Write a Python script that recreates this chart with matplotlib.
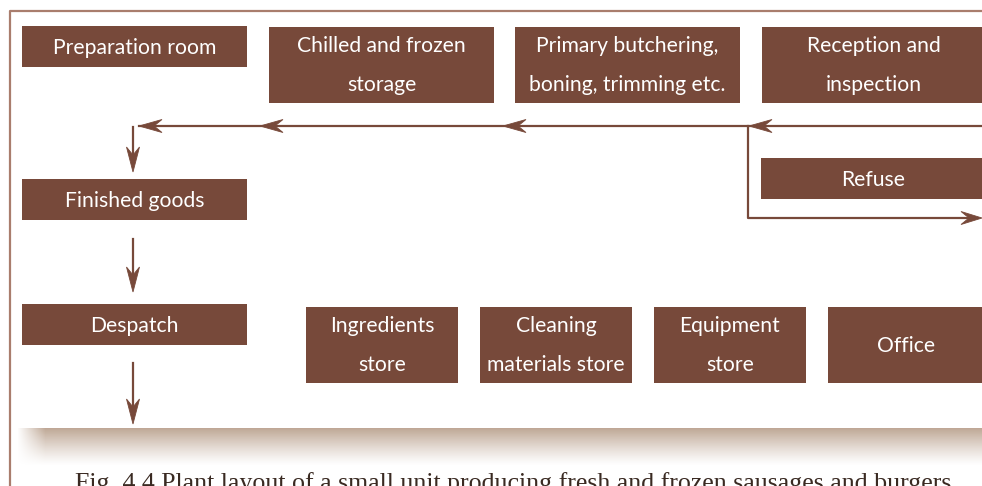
import matplotlib
matplotlib.use("Agg")
import matplotlib.pyplot as plt
from matplotlib.patches import Rectangle, Polygon
import numpy as np

# ---- content ----
box_labels = [
    "Preparation room",
    "Chilled and frozen\nstorage",
    "Primary butchering,\nboning, trimming etc.",
    "Reception and\ninspection",
    "Refuse",
    "Finished goods",
    "Despatch",
    "Ingredients\nstore",
    "Cleaning\nmaterials store",
    "Equipment\nstore",
    "Office",
]
caption = "Fig. 4.4 Plant layout of a small unit producing fresh and frozen sausages and burgers"

# ---- layout (pixels: x0, y0, x1, y1) ----
box_layout = [
    (22, 26, 247, 67),
    (269, 27, 494, 103),
    (515, 27, 740, 103),
    (762, 27, 985, 103),
    (761, 158, 985, 199),
    (22, 179, 247, 220),
    (22, 304, 247, 345),
    (306, 307, 458, 383),
    (480, 307, 632, 383),
    (654, 307, 806, 383),
    (828, 307, 985, 383),
]

BROWN = "#77493a"
FRAME = "#a97d6d"
W, H = 982, 486
label_font = "Lato"
FS = 15.2

fig = plt.figure(figsize=(W / 100, H / 100), dpi=100)
ax = fig.add_axes([0, 0, 1, 1])
ax.set_xlim(0, W)
ax.set_ylim(H, 0)
ax.axis("off")

# frame
ax.plot([10, 10, W + 5], [H + 5, 11, 11], color=FRAME, lw=1.6, solid_capstyle="butt")

# shadow band
ny, nx = 40, W
yy = np.linspace(0, 1, ny)[:, None]
xx = np.arange(nx)[None, :]
vert = (1 - yy) ** 1.2
horiz = np.clip((xx - 17) / 28.0, 0, 1)
alpha = vert * horiz
rgba = np.zeros((ny, nx, 4))
rgba[..., 0] = 0xbf / 255
rgba[..., 1] = 0xa8 / 255
rgba[..., 2] = 0x96 / 255
rgba[..., 3] = alpha
ax.imshow(rgba, extent=(0, W, 466, 428), aspect="auto", interpolation="bilinear", zorder=1)

# boxes
for (x0, y0, x1, y1), lab in zip(box_layout, box_labels):
    ax.add_patch(Rectangle((x0, y0), x1 - x0, y1 - y0, facecolor=BROWN, edgecolor="none", zorder=2))
    lines = lab.split("\n")
    cx = (x0 + x1) / 2
    cy = (y0 + y1) / 2
    if len(lines) == 1:
        ax.text(cx, cy + 1, lines[0], color="white", fontsize=FS, family=label_font,
                ha="center", va="center", zorder=3)
    else:
        ax.text(cx, cy - 19, lines[0], color="white", fontsize=FS, family=label_font,
                ha="center", va="center", zorder=3)
        ax.text(cx, cy + 20, lines[1], color="white", fontsize=FS, family=label_font,
                ha="center", va="center", zorder=3)


def head(tip, direction, L=23, h=13, n=8):
    tx, ty = tip
    dx, dy = direction
    px, py = -dy, dx
    pts = [
        (tx, ty),
        (tx - dx * L + px * h / 2, ty - dy * L + py * h / 2),
        (tx - dx * (L - n), ty - dy * (L - n)),
        (tx - dx * L - px * h / 2, ty - dy * L - py * h / 2),
    ]
    ax.add_patch(Polygon(pts, closed=True, facecolor=BROWN, edgecolor=BROWN, lw=0.6, zorder=4))


LW = 1.6
# main horizontal flow line
ax.plot([W + 5, 139], [126, 126], color=BROWN, lw=LW, zorder=3)
for tx in [139, 260, 503, 749]:
    head((tx, 126), (-1, 0))
# refuse branch
ax.plot([748, 748, 975], [126, 218, 218], color=BROWN, lw=LW, zorder=3)
head((982, 218), (1, 0), L=21)
# vertical arrows
for y0, y1 in [(127, 172), (239, 292), (363, 424)]:
    ax.plot([133, 133], [y0, y1 - 10], color=BROWN, lw=LW, zorder=3)
    head((133, y1), (0, 1), L=25)

# caption
ax.text(513, 490, caption, fontsize=18.6, family="Liberation Serif", color="#3a2a22",
        ha="center", va="baseline")

fig.savefig("out.png", dpi=100)
